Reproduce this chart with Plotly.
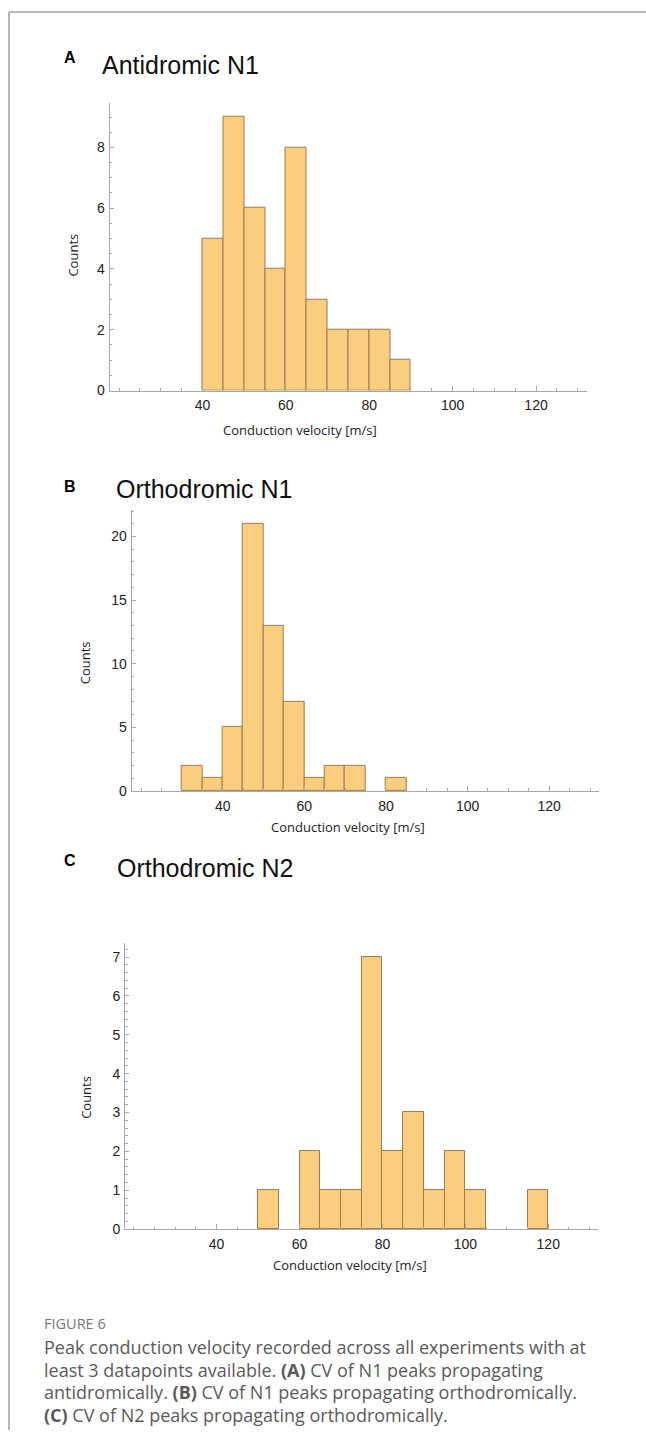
import plotly.graph_objects as go

W, H = 646, 1438

# ---- data ----
bin_width = 5
a_bin_starts = [40, 45, 50, 55, 60, 65, 70, 75, 80, 85]
a_counts = [5, 9, 6, 4, 8, 3, 2, 2, 2, 1]

b_bin_starts = [30, 35, 40, 45, 50, 55, 60, 65, 70, 75, 80]
b_counts = [2, 1, 5, 21, 13, 7, 1, 2, 2, 0, 1]

c_bin_starts = [50, 55, 60, 65, 70, 75, 80, 85, 90, 95, 100, 105, 110, 115]
c_counts = [1, 0, 2, 1, 1, 7, 2, 3, 1, 2, 1, 0, 0, 1]

x_ticks = [40, 60, 80, 100, 120]
panel_letters = ["A", "B", "C"]
panel_titles = ["Antidromic N1", "Orthodromic N1", "Orthodromic N2"]
x_title = "Conduction velocity [m/s]"
y_title = "Counts"
caption_head = "FIGURE 6"
caption_lines = [
    "Peak conduction velocity recorded across all experiments with at",
    "least 3 datapoints available. <b>(A)</b> CV of N1 peaks propagating",
    "antidromically. <b>(B)</b> CV of N1 peaks propagating orthodromically.",
    "<b>(C)</b> CV of N2 peaks propagating orthodromically.",
]


def px(x):
    return x / W


def py(y):
    return 1 - y / H


BAR_FILL = "#FBCD7E"
BAR_EDGE = "#9C7C4C"
AXIS_COL = "#A8A8A8"
TICK_FONT = dict(family="Liberation Sans, Arial, sans-serif", size=14, color="#222222")

# panel geometry in pixels: (x_left, x_right, y_top, y_bottom)
panels = [
    dict(box=(109.5, 586.7, 103.3, 392.7), xr=[17.7, 132.15], yr=[0, 9.47], ydt=2, ymin=0.5,
         starts=a_bin_starts, counts=a_counts),
    dict(box=(131.7, 599.0, 512.7, 795.3), xr=[17.7, 132.2], yr=[0, 22.1], ydt=5, ymin=1,
         starts=b_bin_starts, counts=b_counts),
    dict(box=(125.0, 598.0, 948.3, 1236.0), xr=[17.9, 132.0], yr=[0, 7.36], ydt=1, ymin=0.2,
         starts=c_bin_starts, counts=c_counts),
]

fig = go.Figure()
layout = dict(width=W, height=H, autosize=False, margin=dict(l=0, r=0, t=0, b=0),
              paper_bgcolor="white", plot_bgcolor="white", showlegend=False, bargap=0)

for i, p in enumerate(panels):
    n = "" if i == 0 else str(i + 1)
    xl, xr_, yt, yb = p["box"]
    # empty bins draw nothing
    centers = [s + bin_width / 2 for s, c in zip(p["starts"], p["counts"]) if c > 0]
    heights = [c for c in p["counts"] if c > 0]
    fig.add_trace(go.Bar(
        x=centers, y=heights, width=[bin_width] * len(centers),
        marker=dict(color=BAR_FILL, line=dict(color=BAR_EDGE, width=1)),
        xaxis="x" + n, yaxis="y" + n, hoverinfo="skip"))
    layout["xaxis" + n] = dict(
        domain=[px(xl), px(xr_)], range=p["xr"], anchor="y" + n,
        showline=True, linecolor=AXIS_COL, linewidth=1, showgrid=False, zeroline=False,
        tickmode="array", tickvals=x_ticks, ticks="inside", ticklen=5, tickcolor=AXIS_COL,
        tickfont=TICK_FONT, ticklabelstandoff=2,
        minor=dict(ticks="inside", ticklen=2.5, dtick=5, tick0=0, tickcolor=AXIS_COL, showgrid=False),
        fixedrange=True)
    layout["yaxis" + n] = dict(
        domain=[py(yb), py(yt)], range=p["yr"], anchor="x" + n,
        showline=True, linecolor=AXIS_COL, linewidth=1, showgrid=False, zeroline=False,
        tickmode="linear", tick0=0, dtick=p["ydt"], ticks="inside", ticklen=4, tickcolor=AXIS_COL,
        tickfont=TICK_FONT, ticklabelstandoff=1,
        minor=dict(ticks="inside", ticklen=2.5, dtick=p["ymin"], tick0=0, tickcolor=AXIS_COL, showgrid=False),
        fixedrange=True)

fig.update_layout(**layout)

annotations = []
# panel letters + titles
letter_pos = [(70, 58), (70, 489), (70, 865)]
title_pos = [(100, 65.5), (114, 492), (115, 873)]
for (lx, ly), (tx, ty), L, T in zip(letter_pos, title_pos, panel_letters, panel_titles):
    annotations.append(dict(x=px(lx), y=py(ly), xref="paper", yref="paper", text="<b>" + L + "</b>",
                            showarrow=False, xanchor="center", yanchor="middle",
                            font=dict(family="Liberation Sans, Arial, sans-serif", size=16, color="#000")))
    annotations.append(dict(x=px(tx), y=py(ty), xref="paper", yref="paper", text=T,
                            showarrow=False, xanchor="left", yanchor="middle",
                            font=dict(family="Liberation Sans, Arial, sans-serif", size=25, color="#111")))

# axis titles
xt_pos = [(300, 432), (348, 832), (350, 1272)]
yt_pos = [(73, 257), (85, 667), (86, 1104)]
for (x, y) in xt_pos:
    annotations.append(dict(x=px(x), y=py(y), xref="paper", yref="paper", text=x_title,
                            showarrow=False, xanchor="center", yanchor="middle",
                            font=dict(family="Open Sans, sans-serif", size=13, color="#222")))
for (x, y) in yt_pos:
    annotations.append(dict(x=px(x), y=py(y), xref="paper", yref="paper", text=y_title,
                            showarrow=False, xanchor="center", yanchor="middle", textangle=-90,
                            font=dict(family="Open Sans, sans-serif", size=13, color="#222")))

# caption
annotations.append(dict(x=px(42), y=py(1331), xref="paper", yref="paper", text=caption_head,
                        showarrow=False, xanchor="left", yanchor="middle",
                        font=dict(family="Open Sans, sans-serif", size=14.5, color="#777")))
for k, line in enumerate(caption_lines):
    annotations.append(dict(x=px(42), y=py(1355 + 22.5 * k), xref="paper", yref="paper", text=line,
                            showarrow=False, xanchor="left", yanchor="middle",
                            font=dict(family="Open Sans, sans-serif", size=18, color="#5a5a5a")))

fig.update_layout(annotations=annotations)

# frame lines (top and left)
fig.add_shape(type="line", xref="paper", yref="paper", x0=px(9), x1=1, y0=py(12), y1=py(12),
              line=dict(color="#A0A0A0", width=1.5))
fig.add_shape(type="line", xref="paper", yref="paper", x0=px(9), x1=px(9), y0=py(12), y1=0,
              line=dict(color="#A0A0A0", width=1.5))

fig.write_html("out.html", config={"displayModeBar": False},
               post_script="document.body.style.margin='0';document.body.style.overflow='hidden';")
